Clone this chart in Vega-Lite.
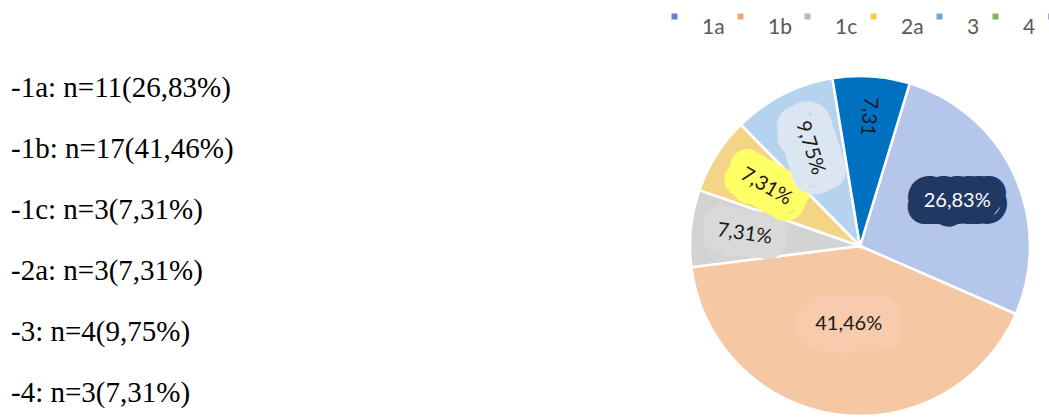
{
  "$schema": "https://vega.github.io/schema/vega-lite/v6.json",
  "padding": {"left": 0, "top": 6, "right": 0, "bottom": 4},
  "bounds": "flush",
  "spacing": 668,
  "config": {"view": {"stroke": null}, "font": "Lato"},
  "data": {
    "values": [
      {"group": "1a", "n": 11, "pieLabel": "26,83%", "listLabel": "-1a: n=11(26,83%)"},
      {"group": "1b", "n": 17, "pieLabel": "41,46%", "listLabel": "-1b: n=17(41,46%)"},
      {"group": "1c", "n": 3, "pieLabel": "7,31%", "listLabel": "-1c: n=3(7,31%)"},
      {"group": "2a", "n": 3, "pieLabel": "7,31%", "listLabel": "-2a: n=3(7,31%)"},
      {"group": "3", "n": 4, "pieLabel": "9,75%", "listLabel": "-3: n=4(9,75%)"},
      {"group": "4", "n": 3, "pieLabel": "7,31", "listLabel": "-4: n=3(7,31%)"}
    ]
  },
  "hconcat": [
    {
      "width": 22,
      "height": 340,
      "mark": {"type": "text", "align": "left", "baseline": "alphabetic", "font": "Liberation Serif", "fontSize": 29, "color": "#000000"},
      "encoding": {
        "y": {"field": "group", "type": "nominal", "sort": null, "axis": null, "scale": {"type": "point", "padding": 0.287, "align": 0.6}},
        "text": {"field": "listLabel"}
      }
    },
    {
      "width": 340,
      "height": 340,
      "encoding": {
        "theta": {"field": "n", "type": "quantitative", "stack": true, "scale": {"range": [0.2967, 6.5799]}},
        "order": {"field": "group", "sort": "ascending"}
      },
      "layer": [
        {
          "mark": {"type": "arc", "outerRadius": 170, "stroke": "#ffffff", "strokeWidth": 2.5},
          "encoding": {
            "fill": {
              "field": "group",
              "type": "nominal",
              "legend": null,
              "scale": {
                "domain": ["1a", "1b", "1c", "2a", "3", "4"],
                "range": ["#b4c6ea", "#f5c7a3", "#d3d3d3", "#f4d486", "#b5d2ee", "#0070c0"]
              }
            }
          }
        },
        {
          "mark": {"type": "text", "text": ""},
          "encoding": {
            "color": {
              "field": "group",
              "type": "nominal",
              "scale": {
                "domain": ["1a", "1b", "1c", "2a", "3", "4", " "],
                "range": ["#5f86cf", "#f0a572", "#b9b9b9", "#f7cd45", "#6ea9dd", "#7cb95c", "#3b5ea8"]
              },
              "legend": {
                "orient": "none",
                "legendX": 664,
                "legendY": -70,
                "direction": "horizontal",
                "gridAlign": "none",
                "title": null,
                "padding": 0,
                "symbolType": "square",
                "symbolSize": 36,
                "symbolStrokeWidth": 0,
                "symbolOpacity": 1,
                "labelFont": "Lato",
                "labelFontSize": 21,
                "labelColor": "#595959",
                "labelOffset": 17,
                "labelBaseline": "top",
                "columnPadding": 5
              }
            }
          }
        },
        {
          "mark": {
            "type": "text",
            "font": "Lato",
            "fontSize": 20,
            "strokeJoin": "round",
            "radius": {"expr": "datum.group === '1a' ? 107 : datum.group === '1b' ? 79 : datum.group === '1c' ? 116 : datum.group === '2a' ? 111 : datum.group === '3' ? 110 : 130"}
          },
          "encoding": {
            "text": {"field": "pieLabel"},
            "fill": {"condition": [
              {"test": "datum.group === '1a'", "value": "#1f3864"},
              {"test": "datum.group === '1b'", "value": "#f8cbad"},
              {"test": "datum.group === '1c'", "value": "#d9d9d9"},
              {"test": "datum.group === '2a'", "value": "#ffff66"},
              {"test": "datum.group === '3'", "value": "#dce6f2"}
            ], "value": "transparent"},
            "stroke": {"condition": [
              {"test": "datum.group === '1a'", "value": "#1f3864"},
              {"test": "datum.group === '1b'", "value": "#f8cbad"},
              {"test": "datum.group === '1c'", "value": "#d9d9d9"},
              {"test": "datum.group === '2a'", "value": "#ffff66"},
              {"test": "datum.group === '3'", "value": "#dce6f2"}
            ], "value": "transparent"},
            "strokeWidth": {"condition": [
              {"test": "datum.group === '1b'", "value": 42},
              {"test": "datum.group === '1a'", "value": 34},
              {"test": "datum.group === '3'", "value": 40},
              {"test": "datum.group === '2a'", "value": 34}
            ], "value": 32},
            "angle": {"condition": [
              {"test": "datum.group === '1c'", "value": 8},
              {"test": "datum.group === '2a'", "value": 30},
              {"test": "datum.group === '3'", "value": 72},
              {"test": "datum.group === '4'", "value": 95}
            ], "value": 0}
          }
        },
        {
          "mark": {
            "type": "text",
            "font": "Lato",
            "fontSize": 20,
            "radius": {"expr": "datum.group === '1a' ? 107 : datum.group === '1b' ? 79 : datum.group === '1c' ? 116 : datum.group === '2a' ? 111 : datum.group === '3' ? 110 : 130"}
          },
          "encoding": {
            "text": {"field": "pieLabel"},
            "fill": {"condition": {"test": "datum.group === '1a'", "value": "#ffffff"}, "value": "#1a1a1a"},
            "angle": {"condition": [
              {"test": "datum.group === '1c'", "value": 8},
              {"test": "datum.group === '2a'", "value": 30},
              {"test": "datum.group === '3'", "value": 72},
              {"test": "datum.group === '4'", "value": 95}
            ], "value": 0}
          }
        }
      ]
    }
  ]
}
